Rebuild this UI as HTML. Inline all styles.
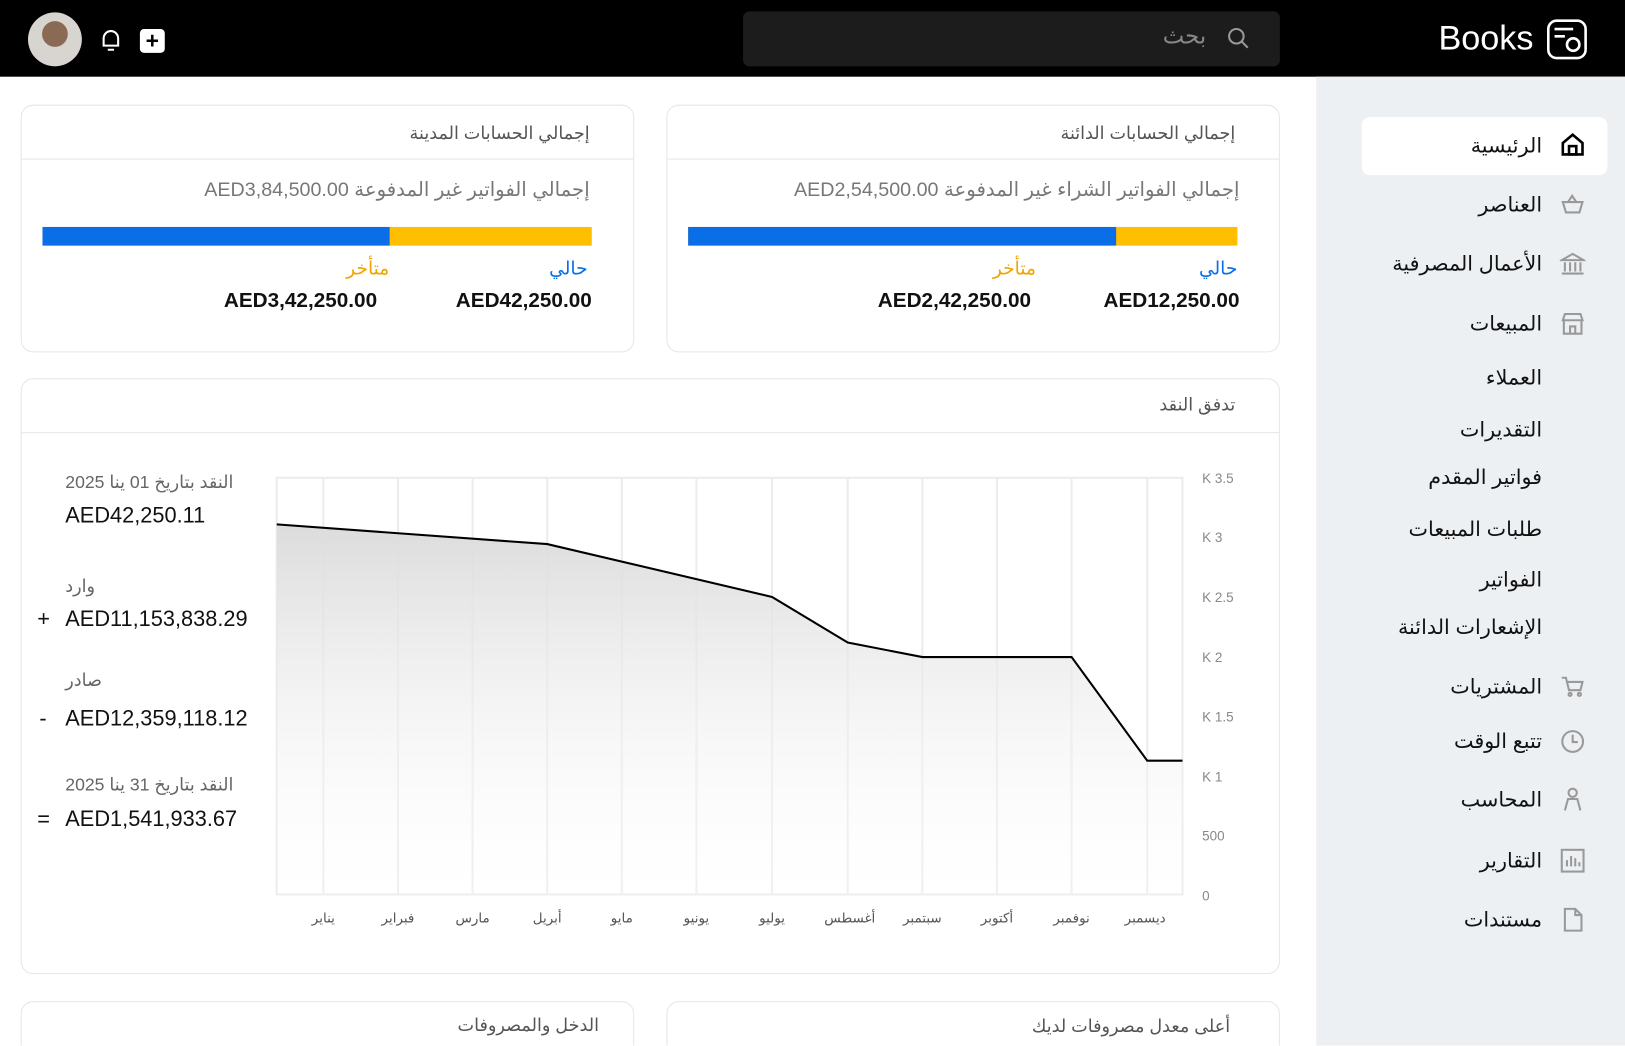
<!DOCTYPE html>
<html><head><meta charset="utf-8"><style>
*{box-sizing:border-box;margin:0;padding:0}
html,body{width:1625px;height:1046px;overflow:hidden;background:#fff;font-family:"Liberation Sans","DejaVu Sans",sans-serif}
#o{position:relative;width:1625px;height:1046px;overflow:hidden}
#w{position:absolute;left:0;top:0;width:1568px;height:1009px;transform:scale(1.03635);transform-origin:0 0;background:#fff;overflow:hidden}
.a{position:absolute;white-space:nowrap}
.rt{direction:rtl;unicode-bidi:embed}
.card{position:absolute;border:1px solid #e6e6e6;border-radius:12px;background:#fff}
.hd{position:absolute;left:0;right:0;top:0;height:52px;border-bottom:1px solid #e6e6e6}
.nav{position:absolute;right:80px;font-size:20px;color:#111;text-align:right;white-space:nowrap}
.ic{position:absolute;left:1505px;width:25px;height:25px}
</style></head><body><div id="o"><div id="w">
<div class="a" style="left:0;top:0;width:1568px;height:74px;background:#000"></div>
<div class="a" style="left:27px;top:12px;width:52px;height:52px;border-radius:50%;background:radial-gradient(circle at 50% 40%,#8a6a55 0 30%,#d8d4cf 31%)"></div>
<svg class="a" style="left:95px;top:27px" width="24" height="24" viewBox="0 0 24 24" fill="none" stroke="#fff" stroke-width="2"><path d="M5 17V10a7 7 0 0 1 14 0v7zM9 21h6"/></svg>
<div class="a" style="left:135px;top:28px;width:24px;height:23px;background:#fff;border-radius:4px;color:#000;font-size:22px;font-weight:bold;text-align:center;line-height:23px">+</div>
<div class="a" style="left:717px;top:11px;width:518px;height:53px;background:#1c1c1c;border-radius:6px"></div>
<div class="a" style="left:1122px;top:22px;font-size:22px;color:#888">بحث</div>
<svg class="a" style="left:1184px;top:26px" width="22" height="22" viewBox="0 0 22 22" fill="none" stroke="#999" stroke-width="2"><circle cx="9" cy="9" r="7"/><path d="M14 14l6 6"/></svg>
<div class="a" style="left:1388px;top:18px;font-size:33px;color:#fff">Books</div>
<svg class="a" style="left:1492px;top:18px" width="40" height="40" viewBox="0 0 40 40" fill="none" stroke="#fff" stroke-width="2.5"><rect x="2" y="2" width="36" height="36" rx="8"/><circle cx="26" cy="25" r="6"/><path d="M8 10h18M8 17h10"/></svg>

<div class="a" style="left:1270px;top:74px;width:298px;height:935px;background:#edf0f3"></div>
<div class="a" style="left:1314px;top:113px;width:237px;height:56px;background:#fff;border-radius:8px"></div>
<div class="nav" style="top:128px">الرئيسية</div>
<div class="nav" style="top:185px">العناصر</div>
<div class="nav" style="top:242px">الأعمال المصرفية</div>
<div class="nav" style="top:300px">المبيعات</div>
<div class="nav" style="top:352px">العملاء</div>
<div class="nav" style="top:402px">التقديرات</div>
<div class="nav" style="top:448px">فواتير المقدم</div>
<div class="nav" style="top:498px">طلبات المبيعات</div>
<div class="nav" style="top:547px">الفواتير</div>
<div class="nav" style="top:593px">الإشعارات الدائنة</div>
<div class="nav" style="top:650px">المشتريات</div>
<div class="nav" style="top:703px">تتبع الوقت</div>
<div class="nav" style="top:759px">المحاسب</div>
<div class="nav" style="top:818px">التقارير</div>
<div class="nav" style="top:875px">مستندات</div>
<svg class="ic" style="top:127px" viewBox="0 0 25 25" fill="none" stroke="#000" stroke-width="2.5"><path d="M3 11L12.5 3 22 11v11H3z"/><rect x="9" y="14" width="7" height="8"/></svg>
<svg class="ic" style="top:185px" viewBox="0 0 25 25" fill="none" stroke="#999" stroke-width="2"><path d="M3 10h19l-3 10H6zM8 10l4-6 4 6"/></svg>
<svg class="ic" style="top:242px" viewBox="0 0 25 25" fill="none" stroke="#999" stroke-width="2"><path d="M2 9l10.5-6L23 9zM5 11v9M10 11v9M15 11v9M20 11v9M2 22h21"/></svg>
<svg class="ic" style="top:300px" viewBox="0 0 25 25" fill="none" stroke="#999" stroke-width="2"><path d="M3 9l2-6h15l2 6zM4 9v13h17V9M10 22v-7h5v7"/></svg>
<svg class="ic" style="top:650px" viewBox="0 0 25 25" fill="none" stroke="#999" stroke-width="2"><path d="M2 4h4l3 12h11l2-8H7"/><circle cx="10" cy="20" r="1.5"/><circle cx="19" cy="20" r="1.5"/></svg>
<svg class="ic" style="top:703px" viewBox="0 0 25 25" fill="none" stroke="#999" stroke-width="2"><circle cx="12.5" cy="12.5" r="10"/><path d="M12.5 6v7h5"/></svg>
<svg class="ic" style="top:759px" viewBox="0 0 25 25" fill="none" stroke="#999" stroke-width="2"><circle cx="12.5" cy="6" r="4"/><path d="M5 23l3-11h9l3 11"/></svg>
<svg class="ic" style="top:818px" viewBox="0 0 25 25" fill="none" stroke="#999" stroke-width="2"><rect x="2" y="2" width="21" height="21"/><path d="M7 18v-6M11 18V8M15 18v-8M19 18v-4"/></svg>
<svg class="ic" style="top:875px" viewBox="0 0 25 25" fill="none" stroke="#999" stroke-width="2"><path d="M5 2h10l6 6v15H5zM15 2v6h6"/></svg>

<div class="card" style="left:643px;top:101px;width:592px;height:239px">
<div class="hd"></div>
<div class="a rt" style="right:42px;top:17px;font-size:17px;color:#555">إجمالي الحسابات الدائنة</div>
<div class="a rt" style="right:38px;top:70px;font-size:19px;color:#777">إجمالي الفواتير الشراء غير المدفوعة AED2,54,500.00</div>
<div class="a" style="left:20px;top:117px;width:530px;height:18px;background:#ffbf00"></div>
<div class="a" style="left:20px;top:117px;width:413px;height:18px;background:#0a6ee8"></div>
<div class="a" style="right:40px;top:147px;font-size:18px;color:#0a6ee8">حالي</div>
<div class="a" style="left:314px;top:147px;font-size:18px;color:#f0a500">متأخر</div>
<div class="a" style="right:38px;top:177px;font-size:20px;font-weight:bold;color:#111">AED12,250.00</div>
<div class="a" style="left:203px;top:177px;font-size:20px;font-weight:bold;color:#111">AED2,42,250.00</div>
</div>
<div class="card" style="left:20px;top:101px;width:592px;height:239px">
<div class="hd"></div>
<div class="a rt" style="right:42px;top:17px;font-size:17px;color:#555">إجمالي الحسابات المدينة</div>
<div class="a rt" style="right:42px;top:70px;font-size:19px;color:#777">إجمالي الفواتير غير المدفوعة AED3,84,500.00</div>
<div class="a" style="left:20px;top:117px;width:530px;height:18px;background:#ffbf00"></div>
<div class="a" style="left:20px;top:117px;width:335px;height:18px;background:#0a6ee8"></div>
<div class="a" style="right:44px;top:147px;font-size:18px;color:#0a6ee8">حالي</div>
<div class="a" style="left:313px;top:147px;font-size:18px;color:#f0a500">متأخر</div>
<div class="a" style="right:40px;top:177px;font-size:20px;font-weight:bold;color:#111">AED42,250.00</div>
<div class="a" style="left:195px;top:177px;font-size:20px;font-weight:bold;color:#111">AED3,42,250.00</div>
</div>
<div class="card" style="left:20px;top:365px;width:1215px;height:575px">
<div class="hd"></div>
<div class="a" style="right:42px;top:15px;font-size:17px;color:#555">تدفق النقد</div>
</div>
<div class="a rt" style="left:63px;top:456px;font-size:17px;color:#666">النقد بتاريخ 01 ينا 2025</div>
<div class="a" style="left:63px;top:486px;font-size:21px;color:#111">AED42,250.11</div>
<div class="a" style="left:63px;top:556px;font-size:17px;color:#666">وارد</div>
<div class="a" style="left:36px;top:586px;font-size:21px;color:#111">+</div>
<div class="a" style="left:63px;top:586px;font-size:21px;color:#111">AED11,153,838.29</div>
<div class="a" style="left:63px;top:647px;font-size:17px;color:#666">صادر</div>
<div class="a" style="left:38px;top:682px;font-size:21px;color:#111">-</div>
<div class="a" style="left:63px;top:682px;font-size:21px;color:#111">AED12,359,118.12</div>
<div class="a rt" style="left:63px;top:748px;font-size:17px;color:#666">النقد بتاريخ 31 ينا 2025</div>
<div class="a" style="left:36px;top:779px;font-size:21px;color:#111">=</div>
<div class="a" style="left:63px;top:779px;font-size:21px;color:#111">AED1,541,933.67</div>
<svg class="a" style="left:0;top:0" width="1268" height="1009">
<defs><linearGradient id="g" x1="0" y1="0" x2="0" y2="1"><stop offset="0" stop-color="#dcdcdc"/><stop offset="1" stop-color="#fff" stop-opacity="0.2"/></linearGradient></defs>
<rect x="267" y="461" width="874" height="402" fill="none" stroke="#ececec" stroke-width="2"/>
<g stroke="#ececec" stroke-width="2">
<line x1="312" y1="461" x2="312" y2="863"/><line x1="384" y1="461" x2="384" y2="863"/><line x1="456" y1="461" x2="456" y2="863"/><line x1="528" y1="461" x2="528" y2="863"/><line x1="600" y1="461" x2="600" y2="863"/><line x1="672" y1="461" x2="672" y2="863"/><line x1="745" y1="461" x2="745" y2="863"/><line x1="818" y1="461" x2="818" y2="863"/><line x1="890" y1="461" x2="890" y2="863"/><line x1="962" y1="461" x2="962" y2="863"/><line x1="1034" y1="461" x2="1034" y2="863"/><line x1="1107" y1="461" x2="1107" y2="863"/></g>
<path d="M267 506L528 525L745 576L818 620L890 634L1034 634L1107 734L1141 734L1141 863L267 863Z" fill="url(#g)"/>
<path d="M267 506L528 525L745 576L818 620L890 634L1034 634L1107 734L1141 734" fill="none" stroke="#000" stroke-width="2"/>
<g font-size="13" fill="#888" font-family="Liberation Sans,DejaVu Sans,sans-serif">
<text x="1160" y="466">K 3.5</text><text x="1160" y="523">K 3</text><text x="1160" y="581">K 2.5</text><text x="1160" y="639">K 2</text><text x="1160" y="696">K 1.5</text><text x="1160" y="754">K 1</text><text x="1160" y="811">500</text><text x="1160" y="869">0</text>
</g>
<g font-size="13" fill="#555" text-anchor="middle" font-family="Liberation Sans,DejaVu Sans,sans-serif">
<text x="312" y="890">يناير</text><text x="384" y="890">فبراير</text><text x="456" y="890">مارس</text><text x="528" y="890">أبريل</text><text x="600" y="890">مايو</text><text x="672" y="890">يونيو</text><text x="745" y="890">يوليو</text><text x="820" y="890">أغسطس</text><text x="890" y="890">سبتمبر</text><text x="962" y="890">أكتوبر</text><text x="1034" y="890">نوفمبر</text><text x="1105" y="890">ديسمبر</text>
</g></svg>
<div class="card" style="left:20px;top:966px;width:592px;height:60px"></div>
<div class="a" style="right:990px;top:980px;font-size:17px;color:#555">الدخل والمصروفات</div>
<div class="card" style="left:643px;top:966px;width:592px;height:60px"></div>
<div class="a" style="right:381px;top:981px;font-size:17px;color:#555">أعلى معدل مصروفات لديك</div>
</div></div></body></html>
